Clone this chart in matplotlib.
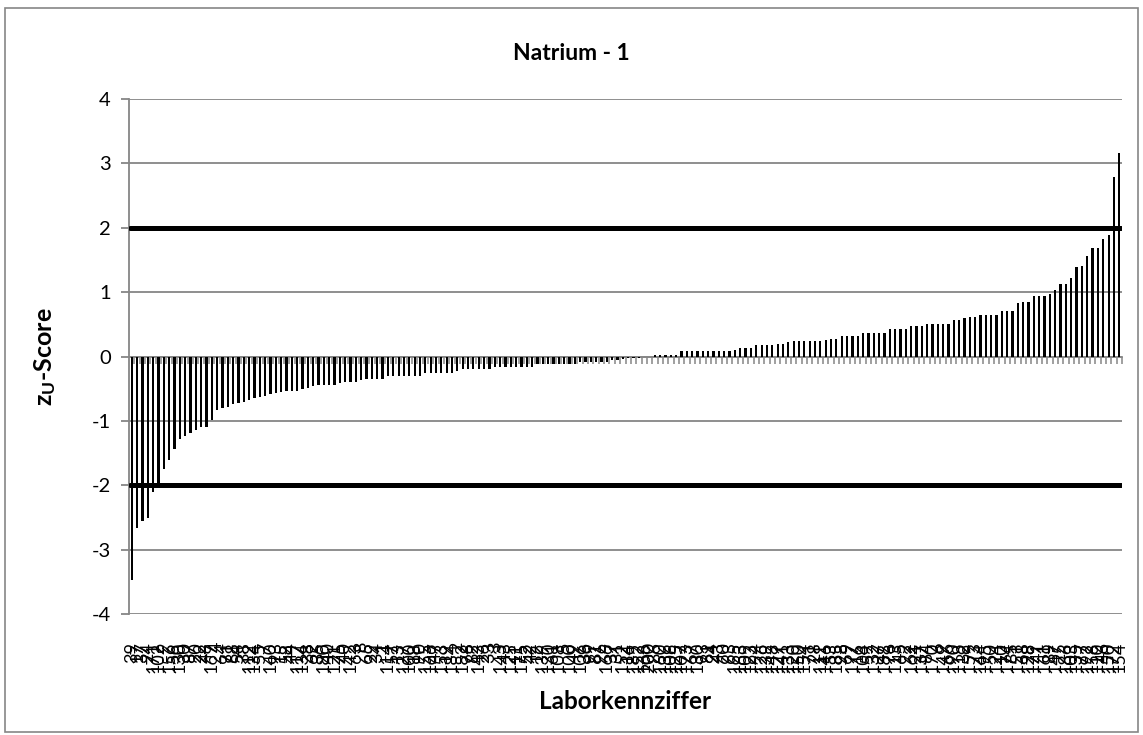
import matplotlib
matplotlib.use("Agg")
import matplotlib.pyplot as plt
import numpy as np
from matplotlib.patches import Rectangle

plt.rcParams['font.family'] = ['Lato', 'DejaVu Sans']
plt.rcParams['axes.unicode_minus'] = False
plt.rcParams['mathtext.fontset'] = 'custom'
plt.rcParams['mathtext.rm'] = 'Lato'
plt.rcParams['mathtext.bf'] = 'Lato:bold'

# z_U scores, sorted ascending
scores = [
    -3.47, -2.66, -2.56, -2.51, -2.10, -2.05, -1.75, -1.61, -1.43, -1.28,
    -1.23, -1.19, -1.14, -1.10, -1.09, -0.98, -0.83, -0.80, -0.79, -0.74,
    -0.72, -0.70, -0.68, -0.65, -0.63, -0.62, -0.58, -0.57, -0.55, -0.54,
    -0.53, -0.53, -0.51, -0.49, -0.46, -0.45, -0.45, -0.45, -0.44, -0.41,
    -0.40, -0.40, -0.40, -0.36, -0.35, -0.35, -0.35, -0.35, -0.30, -0.30,
    -0.30, -0.30, -0.30, -0.30, -0.30, -0.25, -0.25, -0.25, -0.25, -0.25,
    -0.25, -0.22, -0.19, -0.19, -0.19, -0.19, -0.19, -0.19, -0.16, -0.16,
    -0.16, -0.16, -0.16, -0.16, -0.16, -0.16, -0.12, -0.12, -0.12, -0.12,
    -0.12, -0.12, -0.12, -0.12, -0.09, -0.09, -0.09, -0.09, -0.09, -0.09,
    -0.06, -0.06, -0.04, -0.03, -0.02, -0.02, -0.01, -0.01, 0.03, 0.03,
    0.03, 0.03, 0.03, 0.08, 0.08, 0.08, 0.08, 0.08, 0.08, 0.08,
    0.08, 0.08, 0.09, 0.10, 0.13, 0.13, 0.13, 0.18, 0.18, 0.18,
    0.18, 0.19, 0.20, 0.22, 0.24, 0.24, 0.24, 0.24, 0.24, 0.24,
    0.25, 0.27, 0.27, 0.32, 0.32, 0.32, 0.32, 0.36, 0.37, 0.37,
    0.37, 0.37, 0.42, 0.42, 0.42, 0.42, 0.47, 0.47, 0.47, 0.51,
    0.51, 0.51, 0.51, 0.51, 0.56, 0.56, 0.60, 0.61, 0.61, 0.65,
    0.65, 0.65, 0.65, 0.70, 0.70, 0.70, 0.83, 0.84, 0.85, 0.94,
    0.94, 0.94, 0.97, 1.03, 1.13, 1.13, 1.22, 1.39, 1.41, 1.56,
    1.69, 1.69, 1.82, 1.88, 2.79, 3.16,
]

# Laborkennziffern (tick labels, mostly illegible in the original)
labs = [
    39, 17, 37, 24, 171, 102, 9, 156, 56, 130, 30, 87, 20, 22, 48, 167, 4, 64, 71, 88,
    54, 38, 112, 134, 55, 7, 140, 93, 15, 58, 44, 117, 134, 38, 62, 35, 180, 40, 121, 75,
    40, 142, 63, 8, 65, 29, 34, 1, 114, 57, 13, 127, 100, 18, 90, 155, 166, 47, 153, 19,
    184, 2, 182, 78, 82, 143, 26, 33, 3, 143, 43, 125, 11, 175, 52, 42, 12, 139, 130, 61,
    108, 5, 100, 49, 106, 36, 99, 81, 96, 166, 37, 31, 152, 14, 189, 152, 168, 200, 86, 160,
    136, 106, 125, 107, 173, 67, 130, 93, 81, 24, 43, 60, 63, 165, 163, 109, 123, 94, 126, 139,
    148, 127, 141, 133, 120, 150, 154, 71, 28, 111, 146, 53, 185, 98, 69, 177, 16, 104, 59, 132,
    27, 188, 76, 113, 45, 92, 162, 21, 137, 84, 170, 6, 149, 66, 190, 118, 32, 159, 73, 144,
    195, 50, 124, 10, 174, 85, 151, 68, 128, 179, 41, 161, 89, 147, 25, 186, 103, 135, 77, 192,
    158, 110, 46, 150, 172, 154,
]

limits = [-2, 2]
yticks = [-4, -3, -2, -1, 0, 1, 2, 3, 4]

grey = '#868686'
x = np.arange(len(scores))

fig = plt.figure(figsize=(11.43, 7.35), dpi=100)
ax = fig.add_axes([0.1129, 0.1646, 0.8687, 0.7007])

ax.bar(x, scores, width=0.42, color='black', zorder=3)
for lim in limits:
    ax.plot([x[0] - 0.3, x[-1] + 0.3], [lim, lim], color='black', lw=3.6,
            solid_capstyle='round', zorder=4)

ax.set_xlim(-0.5, len(scores) - 0.5)
ax.set_ylim(-4, 4)
ax.set_yticks(yticks)
ax.set_yticklabels([str(v) for v in yticks], fontsize=14.5)
ax.yaxis.grid(True, color=grey, lw=1.3, zorder=0)
ax.set_axisbelow(True)
ax.tick_params(axis='y', direction='out', length=6, width=1.3, color=grey, pad=7)

for s in ['top', 'right']:
    ax.spines[s].set_visible(False)
ax.spines['left'].set_color(grey)
ax.spines['left'].set_linewidth(1.3)
ax.spines['bottom'].set_position(('data', 0))
ax.spines['bottom'].set_color(grey)
ax.spines['bottom'].set_linewidth(1.3)
ax.spines['bottom'].set_zorder(2)

# category tick marks on the zero line
ax.set_xticks(x + 0.5, minor=True)
ax.set_xticks([])
ax.tick_params(axis='x', which='minor', direction='out', length=5, width=1.1,
               color=grey, labelbottom=False)

sec = ax.secondary_xaxis('bottom')
sec.set_xticks(x)
sec.set_xticklabels([str(v) for v in labs], rotation=90, fontsize=13)
sec.tick_params(axis='x', length=0, pad=20)
sec.spines['bottom'].set_visible(False)

ax.set_ylabel(r'$\mathbf{z_U}$-Score', fontsize=18, fontweight='bold')
ax.yaxis.set_label_coords(-0.072, 0.5)
fig.text(0.547, 0.035, 'Laborkennziffer', ha='center', fontsize=17.5, fontweight='bold')
fig.text(0.5, 0.918, 'Natrium - 1', ha='center', fontsize=16.5, fontweight='bold')

fig.patches.append(Rectangle((0.004, 0.004), 0.992, 0.985, transform=fig.transFigure,
                             fill=False, edgecolor=grey, lw=1.2))

fig.savefig('out.png', dpi=100)
